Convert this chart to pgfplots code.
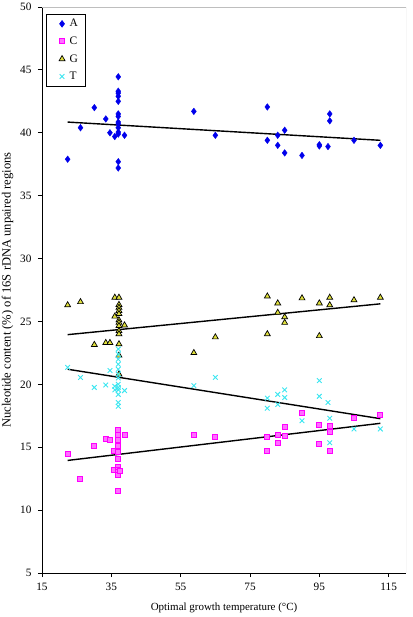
\documentclass[border=0pt]{standalone}
\usepackage{pgfplots}
\pgfplotsset{compat=1.18}
\usepackage{fontspec}
\setmainfont{Liberation Serif}
\definecolor{cA}{RGB}{0,0,235}
\definecolor{cC}{RGB}{255,0,255}
\definecolor{cCf}{RGB}{255,110,255}
\definecolor{cG}{RGB}{225,225,60}
\definecolor{cT}{RGB}{60,230,240}
\definecolor{bord}{RGB}{190,190,190}
\begin{document}
\begin{tikzpicture}
\begin{axis}[name=ax,
  scale only axis, width=364bp, height=566bp,
  xmin=15, xmax=120, ymin=5, ymax=50,
  axis x line*=bottom, axis y line*=left,
  axis line style={black, line width=0.9bp, -},
  xtick={15,35,55,75,95,115}, ytick={5,10,...,50},
  tick style={black, line width=0.9bp},
  tick align=outside, major tick length=4bp,
  /pgf/number format/assume math mode=true,
  ticklabel style={font=\fontsize{11.3}{13}\selectfont},
  xticklabel style={yshift=-3bp},
  yticklabel style={xshift=-3bp},
  xlabel={Optimal growth temperature (\textdegree C)},
  ylabel={Nucleotide content (\%) of 16S rDNA unpaired regions},
  xlabel style={font=\fontsize{11}{13}\selectfont, yshift=-5bp},
  ylabel style={font=\fontsize{12.6}{14}\selectfont, yshift=0bp},
  legend style={at={(0.011,0.9876)}, anchor=north west, draw=black, line width=0.6bp,
    font=\fontsize{11.5}{13}\selectfont, row sep=4.5bp, inner xsep=5bp, inner ysep=3bp,
    legend cell align=left},
  legend image code/.code={\path[draw=none,fill=none] (0cm,0cm) rectangle (0.58cm,0.01cm); \draw[#1,only marks] plot coordinates {(0.38cm,0cm)};},
]
\draw[bord, line width=0.9bp] (rel axis cs:0,1) -- (rel axis cs:1,1) -- (rel axis cs:1,0);
\addplot[only marks, mark=diamond*, mark size=3.3bp, color=cA, fill=cA] coordinates {
(22.4,37.9)(26.1,40.4)(30.1,42.0)(33.4,41.1)(34.6,40.0)(36,39.7)(37,44.45)(37,43.3)(37,43.15)(37,42.9)(37,42.5)(37,41.5)(37,41.3)(37,40.85)(37,40.7)(37,40.4)(37,40.05)(37,39.9)(37,37.7)(37,37.2)(38.8,39.8)(58.8,41.7)(65,39.8)(80,42.05)(80,39.4)(83,39.8)(83,39.0)(85,40.2)(85,38.4)(90,38.2)(95,39.05)(95,38.95)(97.5,38.9)(98,41.5)(98,40.95)(105,39.4)(112.6,39.0)
};
\addlegendentry{A}
\addplot[only marks, mark=square*, mark size=2.5bp, draw=cC, fill=cCf, line width=0.8bp] coordinates {
(22.4,14.5)(25.9,12.5)(30.1,15.1)(33.4,15.63)(34.6,15.55)(35.7,14.7)(35.7,13.2)(37,16.35)(37,16.0)(37,15.55)(37,15.1)(37,14.6)(37,14.1)(37,13.4)(37,13.2)(37,13.0)(37,12.8)(37,11.55)(37.5,13.1)(38.8,15.95)(58.8,15.95)(65,15.8)(80,15.8)(80,14.7)(83,16.0)(83,15.35)(85,16.6)(85,15.9)(90,17.7)(95,16.8)(95,15.3)(98,16.7)(98,16.2)(98,14.7)(105,17.3)(112.6,17.6)
};
\addlegendentry{C}
\addplot[only marks, mark=triangle*, mark size=3.4bp, draw=black, fill=cG, line width=0.7bp] coordinates {
(22.4,26.3)(26.1,26.55)(30.1,23.15)(33.4,23.3)(34.6,23.3)(36,25.4)(36,26.9)(37.2,26.9)(37.2,26.33)(37.2,26.1)(37.2,25.85)(37.2,25.6)(37.2,25.1)(37.2,24.9)(37.2,24.65)(37.2,24.25)(37.2,24.0)(37.2,23.2)(37.2,22.3)(37.2,20.8)(38.8,24.7)(58.8,22.5)(65,23.75)(80,27.0)(80,24.0)(83,26.45)(83,25.7)(85,25.35)(85,24.9)(90,26.85)(95,26.45)(95,23.85)(98,26.9)(98,26.3)(105,26.7)(112.6,26.9)
};
\addlegendentry{G}
\addplot[only marks, mark=x, mark size=3.3bp, color=cT, line width=0.9bp] coordinates {
(22.4,21.35)(26.1,20.55)(30.1,19.75)(33.4,19.95)(34.6,21.1)(36,19.85)(36,19.56)(37,22.8)(37,22.4)(37,22.0)(37,21.6)(37,21.2)(37,20.8)(37,20.5)(37,20.0)(37,19.75)(37,19.56)(37,19.2)(37,18.55)(37,18.25)(38.8,19.5)(58.8,19.9)(65,20.55)(80,18.9)(80,18.1)(83,19.2)(83,18.4)(85,19.56)(85,18.95)(90,17.1)(95,20.3)(95,19.05)(97.5,18.55)(98,17.3)(98,15.35)(105,16.45)(112.6,16.45)
};
\addlegendentry{T}
\addplot[black, line width=1.4bp, no marks, forget plot] coordinates {(22.4,40.85)(112.6,39.4)};
\addplot[black, line width=1.4bp, no marks, forget plot] coordinates {(22.4,13.95)(112.6,16.9)};
\addplot[black, line width=1.4bp, no marks, forget plot] coordinates {(22.4,23.95)(112.6,26.4)};
\addplot[black, line width=1.4bp, no marks, forget plot] coordinates {(22.4,21.2)(112.6,17.27)};
\end{axis}
\pgfresetboundingbox
\path ([xshift=-42bp,yshift=-44bp]ax.south west) rectangle ([xshift=6bp,yshift=7bp]ax.north east);
\end{tikzpicture}
\end{document}
